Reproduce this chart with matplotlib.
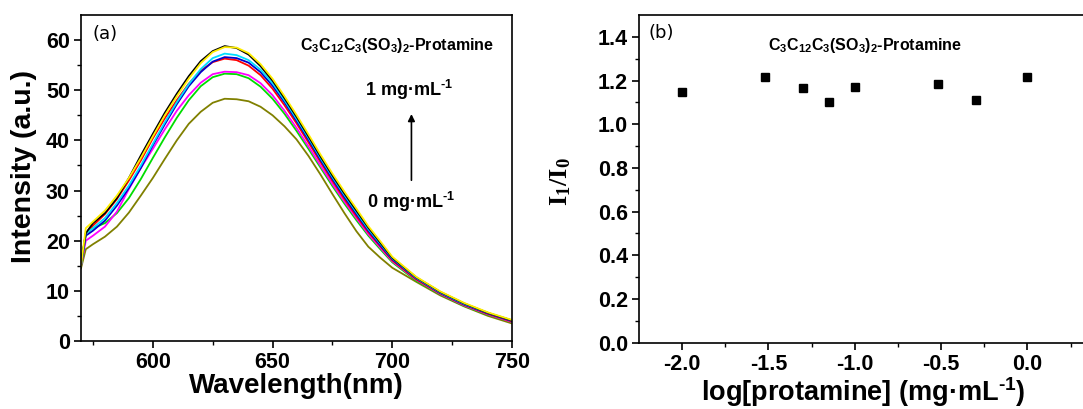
import matplotlib
matplotlib.use("Agg")
import matplotlib.pyplot as plt
import matplotlib.ticker as mticker

plt.rcParams['font.family'] = ['Liberation Sans', 'DejaVu Sans']
plt.rcParams['mathtext.fontset'] = 'custom'
plt.rcParams['mathtext.bf'] = 'Liberation Sans:bold'
plt.rcParams['mathtext.rm'] = 'Liberation Sans:bold'
plt.rcParams['mathtext.cal'] = 'Liberation Serif:bold'
plt.rcParams['mathtext.default'] = 'bf'
plt.rcParams['axes.unicode_minus'] = False

# ---------------- data: panel (a) ----------------
wavelength = [570, 572, 575, 580, 585, 590, 595, 600, 605, 610, 615, 620, 625, 630,
              635, 640, 645, 650, 655, 660, 665, 670, 675, 680, 685, 690, 695, 700,
              710, 720, 730, 740, 750]

black = [15.5, 21.5, 23.5, 25.5, 28.5, 32.5, 37.0, 41.3, 45.5, 49.3, 52.8, 55.8, 57.8, 58.8,
         58.4, 57.1, 54.8, 51.9, 48.4, 44.7, 40.8, 36.8, 33.0, 29.4, 26.0, 22.6, 19.6, 16.6,
         12.7, 9.8, 7.5, 5.6, 4.1]
red = [15.0, 21.5, 23.0, 25.3, 28.3, 32.0, 36.0, 40.4, 44.4, 48.0, 51.3, 53.9, 55.6, 56.3,
       56.0, 54.9, 53.0, 50.3, 47.0, 43.4, 39.6, 35.7, 31.9, 28.3, 24.9, 21.7, 18.9, 16.1,
       12.3, 9.5, 7.2, 5.4, 3.9]
green = [15.0, 21.5, 22.5, 23.5, 25.5, 28.5, 32.3, 36.5, 40.6, 44.5, 48.0, 50.8, 52.6, 53.3,
         53.2, 52.4, 50.7, 48.3, 45.3, 41.9, 38.3, 34.6, 30.9, 27.4, 24.1, 21.0, 18.3, 15.7,
         12.0, 9.3, 7.0, 5.2, 3.8]
blue = [15.0, 21.0, 22.0, 24.0, 27.0, 30.5, 34.5, 39.0, 43.2, 47.2, 50.8, 53.6, 55.7, 56.6,
        56.4, 55.5, 53.6, 50.9, 47.6, 43.9, 40.1, 36.1, 32.3, 28.7, 25.3, 22.0, 19.1, 16.3,
        12.5, 9.6, 7.3, 5.5, 4.0]
cyan = [15.0, 21.5, 22.5, 24.5, 27.5, 31.0, 35.0, 39.3, 43.6, 47.6, 51.2, 54.2, 56.4, 57.3,
        57.0, 56.0, 54.1, 51.4, 48.0, 44.3, 40.5, 36.5, 32.7, 29.1, 25.7, 22.3, 19.4, 16.5,
        12.6, 9.7, 7.4, 5.6, 4.1]
magenta = [15.0, 20.0, 21.0, 22.8, 25.8, 30.3, 34.5, 38.3, 42.2, 45.9, 49.0, 51.5, 53.2, 53.7,
           53.6, 53.0, 51.4, 49.0, 45.9, 42.5, 38.8, 35.0, 31.3, 27.8, 24.5, 21.3, 18.6, 15.9,
           12.2, 9.4, 7.1, 5.3, 3.8]
yellow = [15.0, 22.5, 23.8, 26.0, 29.0, 32.5, 36.5, 40.8, 45.0, 48.8, 52.3, 55.4, 57.6, 58.6,
          58.5, 57.4, 55.2, 52.3, 48.8, 45.1, 41.2, 37.2, 33.4, 29.8, 26.4, 22.9, 19.9, 16.8,
          12.8, 9.9, 7.6, 5.7, 4.2]
olive = [14.5, 18.3, 19.3, 20.8, 22.8, 25.6, 29.0, 32.5, 36.3, 40.0, 43.3, 45.7, 47.5, 48.3,
         48.2, 47.8, 46.7, 45.0, 42.8, 40.2, 36.9, 33.2, 29.3, 25.5, 21.9, 18.8, 16.6, 14.6,
         11.8, 9.1, 6.9, 5.0, 3.5]

spectra = [
    (olive, '#808000'),
    (green, '#00DD00'),
    (magenta, '#FF00FF'),
    (red, '#FF0000'),
    (blue, '#0000CC'),
    (cyan, '#00DDFF'),
    (black, '#000000'),
    (yellow, '#FFEE00'),
]

# ---------------- data: panel (b) ----------------
log_conc = [-2.0, -1.52, -1.30, -1.15, -1.0, -0.52, -0.30, 0.0]
ratio = [1.149, 1.216, 1.165, 1.102, 1.171, 1.183, 1.109, 1.214]

W, H = 1083, 409
fig = plt.figure(figsize=(W / 100, H / 100), dpi=100)

# ---------- panel (a) ----------
ax1 = fig.add_axes([81 / W, 1 - 341 / H, (512 - 81) / W, (341 - 15) / H])
for ys, c in spectra:
    ax1.plot(wavelength, ys, color=c, lw=1.3)
ax1.set_xlim(570, 750)
ax1.set_ylim(0, 65)
ax1.set_xticks([600, 650, 700, 750])
ax1.set_xticks([575, 625, 675, 725], minor=True)
ax1.set_yticks([0, 10, 20, 30, 40, 50, 60])
ax1.set_yticks([5, 15, 25, 35, 45, 55], minor=True)
ax1.set_xlabel('Wavelength(nm)', fontsize=20, fontweight='bold', labelpad=0)
ax1.set_ylabel('Intensity (a.u.)', fontsize=20.5, fontweight='bold')
ax1.yaxis.set_label_coords(-0.102, 0.535)
ax1.text(575, 61.3, '(a)', fontsize=13, ha='left', va='center', family='DejaVu Sans')
ax1.text(702, 59.0, r'C$_3$C$_{12}$C$_3$(SO$_3$)$_2$-Protamine', fontsize=11.5,
         fontweight='bold', ha='center', va='center')
ax1.text(707, 50.0, r'1 mg·mL$^{\text{-1}}$', fontsize=13, fontweight='bold',
         ha='center', va='center')
ax1.text(708, 27.8, r'0 mg·mL$^{\text{-1}}$', fontsize=13, fontweight='bold',
         ha='center', va='center')
ax1.annotate('', xy=(708, 45.8), xytext=(708, 31.5),
             arrowprops=dict(arrowstyle='-|>', color='black', lw=1.2, mutation_scale=10))

# ---------- panel (b) ----------
ax2 = fig.add_axes([639 / W, 1 - 342.7 / H, 2.6 * 172.6 / W, (342.7 - 15) / H])
ax2.plot(log_conc, ratio, 's', color='black', ms=5.2)
ax2.set_xlim(-2.25, 0.35)
ax2.set_ylim(0, 1.5)
ax2.set_xticks([-2.0, -1.5, -1.0, -0.5, 0.0])
ax2.set_xticks([-1.75, -1.25, -0.75, -0.25, 0.25], minor=True)
ax2.set_yticks([0.0, 0.2, 0.4, 0.6, 0.8, 1.0, 1.2, 1.4])
ax2.set_yticks([0.1, 0.3, 0.5, 0.7, 0.9, 1.1, 1.3], minor=True)
ax2.xaxis.set_major_formatter(mticker.FormatStrFormatter('%.1f'))
ax2.yaxis.set_major_formatter(mticker.FormatStrFormatter('%.1f'))
ax2.set_xlabel(r'log[protamine] (mg·mL$^{\text{-1}}$)', fontsize=19.5, fontweight='bold',
               labelpad=0)
ax2.set_ylabel(r'$\mathcal{I_1/I_0}$', fontsize=19)
ax2.yaxis.set_label_coords(-0.147, 0.49)
ax2.text(-2.12, 1.417, '(b)', fontsize=13, ha='center', va='center', family='DejaVu Sans')
ax2.text(-0.94, 1.36, r'C$_3$C$_{12}$C$_3$(SO$_3$)$_2$-Protamine', fontsize=11.5,
         fontweight='bold', ha='center', va='center')

for ax in (ax1, ax2):
    ax.tick_params(axis='both', which='major', direction='out', length=5, width=1.2,
                   labelsize=15.5, pad=3)
    ax.tick_params(axis='both', which='minor', direction='out', length=3, width=1.0)
    for lab in ax.get_xticklabels() + ax.get_yticklabels():
        lab.set_fontweight('bold')
    for s in ax.spines.values():
        s.set_linewidth(1.2)

fig.savefig('out.png', dpi=100)
